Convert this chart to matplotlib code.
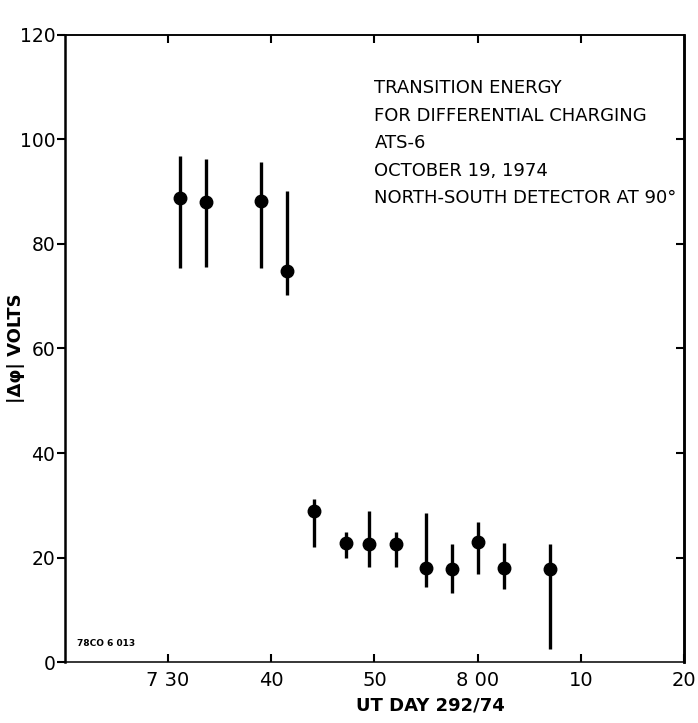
import numpy as np
import matplotlib.pyplot as plt

# UT time in minutes after 7:00, day 292/74
ut_min = [31.2, 33.7, 39.0, 41.5, 44.1, 47.2, 49.5, 52.1, 55.0, 57.5, 60.0, 62.6, 67.0]
dphi = [88.8, 88.1, 88.2, 74.9, 29.0, 22.8, 22.7, 22.6, 18.1, 17.9, 23.0, 18.1, 17.8]
dphi_hi = [96.9, 96.3, 95.7, 90.2, 31.3, 24.9, 29.0, 24.9, 28.6, 22.6, 26.9, 22.9, 22.6]
dphi_lo = [75.3, 75.5, 75.4, 70.3, 22.1, 19.9, 18.3, 18.3, 14.3, 13.2, 16.8, 14.1, 2.6]

xticks = [30, 40, 50, 60, 70, 80]
xticklabels = ['7 30', '40', '50', '8 00', '10', '20']
yticks = [0, 20, 40, 60, 80, 100, 120]
top_ticks = [30, 40, 50, 60, 70]
right_ticks = [20, 40, 60, 80, 100]

title_lines = ['TRANSITION ENERGY', 'FOR DIFFERENTIAL CHARGING', 'ATS-6',
               'OCTOBER 19, 1974', 'NORTH-SOUTH DETECTOR AT 90\u00b0']

plt.rcParams['font.family'] = ['DejaVu Sans']

fig = plt.figure(figsize=(6.98, 7.23), dpi=100)
ax = fig.add_axes([0.093, 0.084, 0.887, 0.868])

x = np.array(ut_min)
y = np.array(dphi)
yerr = [y - np.array(dphi_lo), np.array(dphi_hi) - y]
ax.errorbar(x, y, yerr=yerr, fmt='o', color='black', ms=9, elinewidth=2.4,
            capsize=0)

ax.set_xlim(20, 80)
ax.set_ylim(0, 120)

ax.set_xticks(xticks)
ax.set_xticklabels(xticklabels)
ax.set_yticks(yticks)

ax.tick_params(axis='y', direction='out', length=6, width=1.5, labelsize=13.5, pad=1)
ax.tick_params(axis='x', direction='in', length=6, width=1.5, labelsize=14, pad=6)

# inward ticks on the top and right frame lines, no labels
top = ax.secondary_xaxis('top')
top.set_xticks(top_ticks)
top.tick_params(direction='in', length=6, width=1.5, labeltop=False)
right = ax.secondary_yaxis('right')
right.set_yticks(right_ticks)
right.tick_params(direction='in', length=6, width=1.5, labelright=False)

ax.spines['left'].set_linewidth(1.8)
ax.spines['right'].set_linewidth(1.8)
ax.spines['top'].set_linewidth(1.1)
ax.spines['bottom'].set_linewidth(1.1)
top.spines['top'].set_linewidth(1.1)
right.spines['right'].set_linewidth(1.8)

ax.set_ylabel('|\u0394\u03c6| VOLTS', fontsize=13, fontweight='bold', labelpad=-4)
ax.set_xlabel('UT DAY 292/74', fontsize=13, fontweight='bold')
ax.xaxis.set_label_coords(0.59, -0.055)

for i, line in enumerate(title_lines):
    ax.text(0.50, 0.915 - i * 0.044, line, transform=ax.transAxes,
            fontsize=13, ha='left', va='center')

ax.text(0.02, 0.03, '78CO 6 013', transform=ax.transAxes, fontsize=6.5,
        fontweight='bold', ha='left', va='center')

plt.savefig('out.png', dpi=100)
